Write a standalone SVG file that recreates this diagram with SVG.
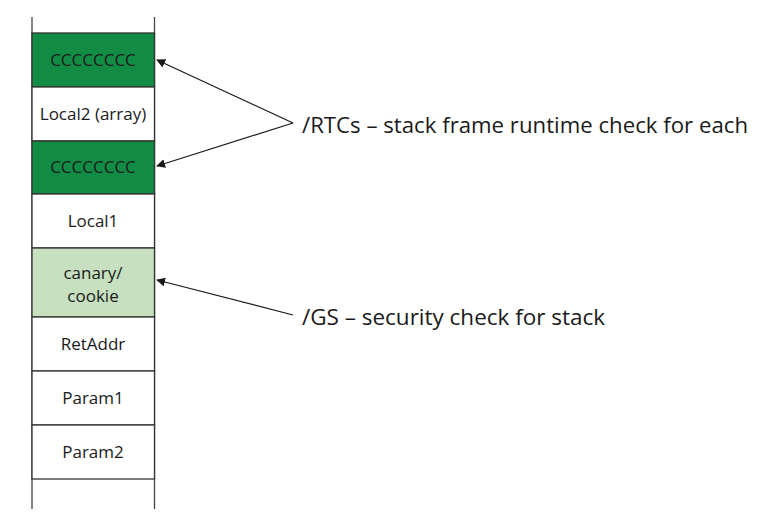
<svg xmlns="http://www.w3.org/2000/svg" width="761" height="518" viewBox="0 0 761 518">
<defs>
<marker id="ah" viewBox="0 0 10 10" refX="9" refY="5" markerWidth="9" markerHeight="9" markerUnits="userSpaceOnUse" orient="auto">
<path d="M0,0 L10,5 L0,10 z" fill="#1a1a1a"/>
</marker>
<style>
.box{stroke:#333;stroke-width:1.3}
.dk{fill:#128c44}
.lt{fill:#c6e0c0}
.wh{fill:#fff}
.t{font-family:"Open Sans","Noto Sans",sans-serif;font-size:17px;fill:#1a1a1a;text-anchor:middle}
.lbl{font-family:"Open Sans","Noto Sans",sans-serif;font-size:22px;fill:#1a1a1a}
.ln{stroke:#1a1a1a;stroke-width:1.2;fill:none;marker-end:url(#ah)}
</style>
</defs>
<rect width="761" height="518" fill="#fff"/>
<g id="stack-walls" stroke="#444" stroke-width="1.3">
<line x1="32" y1="17" x2="32" y2="509"/>
<line x1="154.5" y1="17" x2="154.5" y2="509"/>
</g>
<g id="canary1"><rect class="box dk" x="32" y="33" width="122.5" height="54"/><text class="t" x="93" y="66">CCCCCCCC</text></g>
<g id="local2"><rect class="box wh" x="32" y="87" width="122.5" height="54"/><text class="t" x="93" y="120">Local2 (array)</text></g>
<g id="canary2"><rect class="box dk" x="32" y="141" width="122.5" height="53"/><text class="t" x="93" y="173">CCCCCCCC</text></g>
<g id="local1"><rect class="box wh" x="32" y="194" width="122.5" height="54"/><text class="t" x="93" y="227">Local1</text></g>
<g id="cookie"><rect class="box lt" x="32" y="248" width="122.5" height="69"/><text class="t" x="93" y="279">canary/</text><text class="t" x="93" y="302">cookie</text></g>
<g id="retaddr"><rect class="box wh" x="32" y="317" width="122.5" height="54"/><text class="t" x="93" y="350">RetAddr</text></g>
<g id="param1"><rect class="box wh" x="32" y="371" width="122.5" height="54"/><text class="t" x="93" y="404">Param1</text></g>
<g id="param2"><rect class="box wh" x="32" y="425" width="122.5" height="54"/><text class="t" x="93" y="458">Param2</text></g>
<g id="connectors">
<line class="ln" x1="293" y1="123" x2="157" y2="60"/>
<line class="ln" x1="293" y1="123" x2="157" y2="166"/>
<line class="ln" x1="293" y1="315" x2="157" y2="280"/>
</g>
<g id="rtc-label"><text class="lbl" x="302" y="133" textLength="446" lengthAdjust="spacingAndGlyphs">/RTCs – stack frame runtime check for each</text></g>
<g id="gs-label"><text class="lbl" x="302" y="325" textLength="303" lengthAdjust="spacingAndGlyphs">/GS – security check for stack</text></g>
</svg>
